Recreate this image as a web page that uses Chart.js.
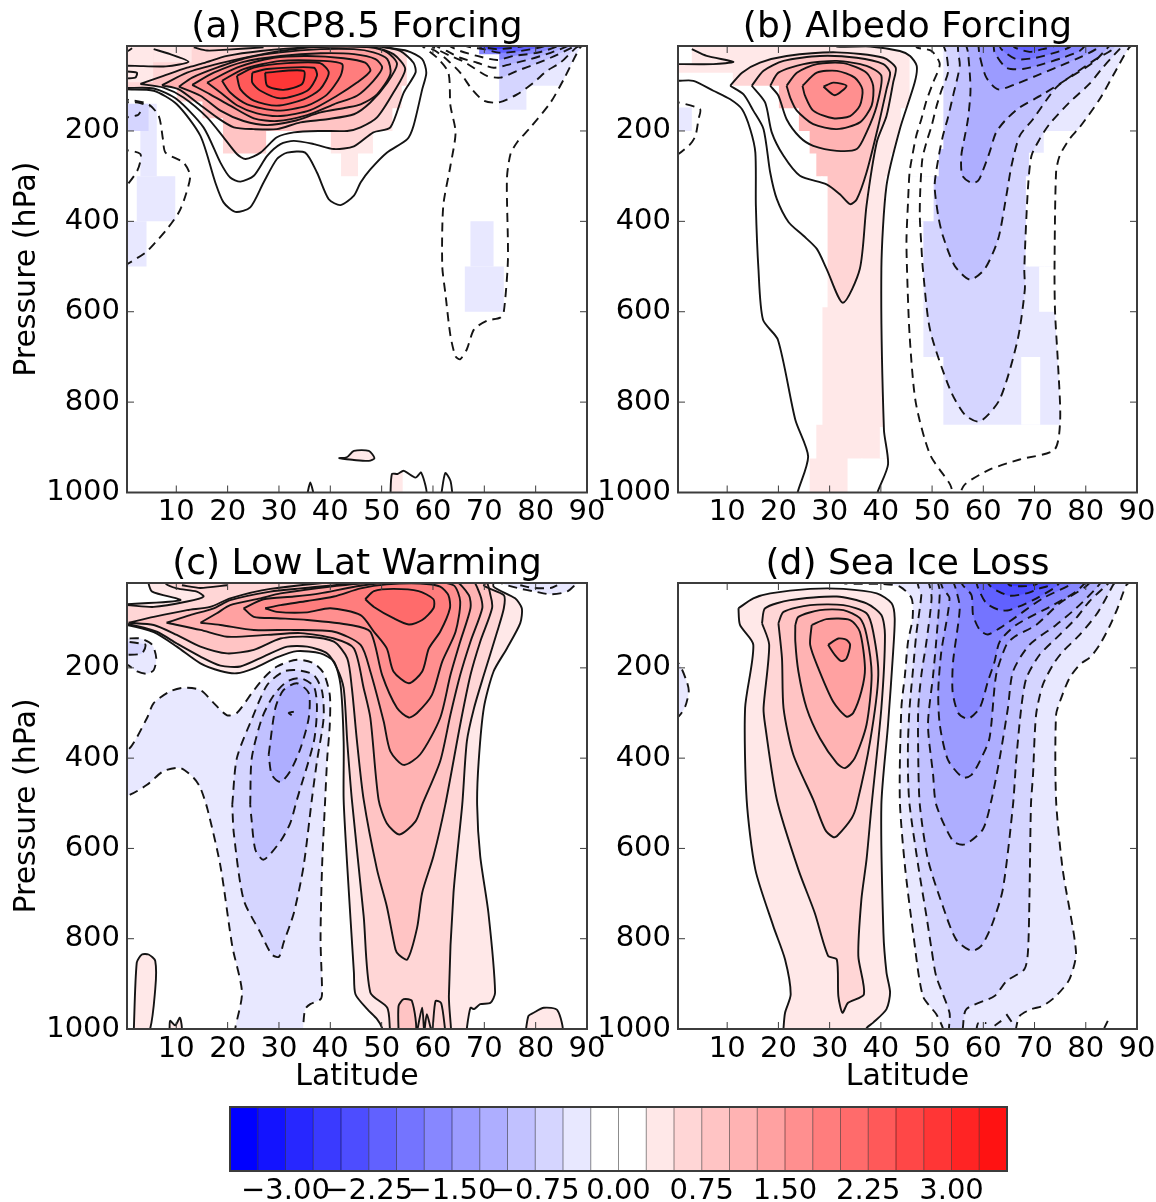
<!DOCTYPE html>
<html>
<head>
<meta charset="utf-8">
<title>Pressure / latitude panels</title>
<script src="https://cdn.jsdelivr.net/npm/chart.js@4/dist/chart.umd.js"></script>
<style>
  body { margin: 0; background: #fff; overflow: hidden; }
  .panel { position: absolute; }
  canvas { display: block; filter: blur(0.6px); }
</style>
</head>
<body>
<div class="panel" style="left:0;top:0"><canvas id="panelA" width="610" height="545"></canvas></div>
<div class="panel" style="left:590px;top:0"><canvas id="panelB" width="569" height="545"></canvas></div>
<div class="panel" style="left:0;top:537px"><canvas id="panelC" width="610" height="563"></canvas></div>
<div class="panel" style="left:590px;top:537px"><canvas id="panelD" width="569" height="563"></canvas></div>
<div class="panel" style="left:200px;top:1090px"><canvas id="colorbar" width="840" height="112"></canvas></div>
<script>
// colour scale
const cbLevels = [-3.5,-3.25,-3,-2.75,-2.5,-2.25,-2,-1.75,-1.5,-1.25,-1,-0.75,-0.5,-0.25,0,0.25,0.5,0.75,1,1.25,1.5,1.75,2,2.25,2.5,2.75,3,3.25,3.5];
const cbColors = ['#0000ff','#1313ff','#2727ff','#3a3aff','#4d4dff','#6161ff','#7474ff','#8787ff','#9b9bff','#aeaeff','#c1c1ff','#d5d5ff','#e8e8ff','#ffffff',
                  '#ffffff','#ffe8e8','#ffd6d6','#ffc4c4','#ffb3b3','#ffa1a1','#ff8f8f','#ff7d7d','#ff6b6b','#ff5959','#ff4747','#ff3636','#ff2424','#ff1212'];
const cbTicks = [-3,-2.25,-1.5,-0.75,0,0.75,1.5,2.25,3];

const latTicks = [10,20,30,40,50,60,70,80,90];
const pressureTicks = [200,400,600,800,1000];

// each contour: [level, [lat,p, lat,p, ...]]
// (a) RCP8.5 Forcing
const rcpPos = [
  [0.25,[-2,108,0.4,108,5.6,111,10.1,141,14.7,211,17.6,314,19.2,358,21.5,379,24.4,369,27,314,29.6,262,31.6,248,35.1,248,37.4,292,39.7,351,42,364,44.6,343,45.9,314,47.8,285,51,248,55,218,56.2,189,57.9,108,58.7,71,57.9,41,55,23,50.4,15,45,5,-2,5]],
  [0.5,[-2,105,0.4,105,5.6,106,10.1,130,15.3,192,18.6,270,20.5,303,22.5,312,25.1,299,27.7,255,30.3,229,32.9,222,36.8,229,40.7,240,44.6,234,48.4,203,51.7,192,54.3,115,56.6,71,56.2,49,53.6,23,49.7,12,45,5,-2,5]],
  [0.75,[3,96,7.5,104,11.4,126,16,170,19.2,214,21.8,251,23.5,262,26.4,248,29.6,214,32.9,203,38.1,200,43.3,200,45.9,192,49.1,170,52.3,115,54.6,63,52.3,30,48.4,15,35.5,15,26.4,23,19.9,34,15.3,50,12.1,60,7.5,78]],
  [1,[7.2,99,10.5,108,14,137,17.9,170,21.2,192,25.1,196,29.6,196,34.2,181,39.4,174,44.6,163,47.8,137,51.1,93,53,52,51.1,26,47.8,15,38.1,13,30.3,23,25.1,34,18.6,50,12.1,71]],
  [1.25,[10.5,102,14.7,122,18.6,155,23.1,178,27.7,187,32.9,178,38.1,159,43.3,148,45.9,141,49.1,119,51.7,74,51.1,41,48.4,26,44.6,19,38.1,19,30.3,26,23.8,38,17.9,60,13.1,82]],
  [1.5,[13.1,98,16.6,119,20.5,144,25.1,172,29.6,178,35.5,165,40.7,141,45.2,122,48.4,89,50.1,60,48.8,41,44.6,30,38.1,28,30.3,34,23.1,47,17.3,71]],
  [1.75,[16,93,18.6,115,21.8,143,25.7,161,30.3,167,36.1,154,41.3,122,45.2,93,47.8,67,46.8,49,42.6,39,35.5,34,29,38,21.8,60]],
  [2,[18.9,89,20.5,115,23.8,141,29.6,155,35.5,144,39.4,119,42,78,42.3,52,38.7,45,30.3,45,23.1,63]],
  [2.25,[21.8,78,22.5,108,25.1,133,29.6,144,34.8,130,38,108,39.7,71,38,50,31.6,50,25.1,60]],
  [2.5,[24.8,71,24.8,93,26.4,111,30.3,128,35.5,111,37.4,78,36.8,60,27.7,63]],
  [2.75,[27.3,71,27.7,100,30.9,109,34.5,96,34.8,67]],
  [0.25,[41.6,924,43.2,922,44.6,908,47.5,908,48.6,924,47.5,930,44.6,928]],
  [0.25,[51.7,1010,52,959,53.1,959,54.3,952,56.6,967,57.7,956,58.6,1010]]
];
const rcpNeg = [
  [-0.25,[57,5,58.2,15,60.8,38,63,71,63.4,144,64.4,203,63.4,277,62,366,61.8,498,62.4,558,63.4,653,64.4,699,65.3,705,66.6,683,68,639,70.5,620,73.1,613,73.8,600,74.6,484,74.4,306,75.1,251,76.4,225,79,192,82.9,137,85.5,85,88.7,15,90,5]],
  [-0.5,[57,5,58.5,13,60.5,23,63,45,65.3,71,67.6,108,69.9,133,72.8,137,76.4,119,79.6,93,82.2,67,84.8,49,88,15,90,5]],
  [-0.75,[59,5,60.1,15,63.4,34,65.7,45,67.9,60,70.5,78,73.1,82,76.4,67,79,56,82.9,38,87.1,15,88,5]],
  [-1,[60,5,60.8,13,62.7,23,65.3,38,68.6,49,71.8,60,75.1,52,79,41,82.9,27,86.1,13,87,5]],
  [-1.5,[63,5,63.4,13,65.3,23,68.6,34,72.5,43,75.7,34,80.3,27,84.2,13,85,5]],
  [-2,[66,5,66.6,13,69.9,19,73.1,27,77,23,81.6,13,82,5]],
  [-2.5,[68,5,68.9,12,72.5,19,77.7,12,78,5]]
];
const rcpMask = [
  [-2,103,10,1100],[10,135,15,1100],[15,172,19,1100],[19,250,27.6,900],[27.6,200,40,900],[40,250,42,900],[42,300,45.5,900],
  [45.5,250,48.4,900],[48.4,200,52.2,900],[52.2,150,54,900],[54,100,55,900],[55,-5,58,900],[58,-5,68.9,900],[68.9,30,72.8,900],
  [72.8,153,78.3,900],[78.3,100,92,900],[54.2,940,92,1100]
];
const rcpBlocks = [
  [0.25,-2,5,5.5,92],[0.25,5.5,5,13,48],
  [-0.25,3,140,6.2,300],[-0.25,2.3,300,9.8,400],[-0.25,0.4,400,4.2,500],[-0.5,0.4,140,4.6,200],
  [-0.25,67.3,400,71.8,500],[-0.25,66.2,500,73.8,600]
];
const rcpSolid = [
  [5.6,19,8.8,30,12.4,47,8,57,2,56,-2,55],
  [-2,67,2.3,71,2,82,-2,84],
  [-1,26,0.4,24,1.4,17],
  [13.4,15,16,22,20,20,27,15],
  [35.5,1005,36.1,978,36.8,1005],
  [61.6,1005,62.4,957,63.4,974,63.8,1005]
];
const rcpDashed = [
  [-1,130,1.4,132,4.6,141,6.6,167,7.4,218,7.9,248,11.4,270,12.7,299,11.8,343,10.5,380,8.2,417,5.9,447,4,469,0.4,495,-1,503],
  [-1,240,3,251,2.4,288,-1,340],
  [-1,137,2.5,137,4.8,146],
  [-1,172,2.5,165,3,158]
];

// (b) Albedo Forcing
const albedoPos = [
  [0.25,[-2,89,0.5,89,3.4,89,7.3,111,10.6,130,12.9,152,14.5,196,15.5,248,15.6,365,16.1,505,17,618,19.9,662,23.3,839,25.8,920,23.8,998,23.6,1012,39.2,1012,39.4,998,41.4,938,40.6,861,40.1,505,41.1,321,43.7,196,46.6,93,47,56,45.7,34,43.7,23,37.9,13,31.4,13,31,5,-2,5]],
  [0.5,[10.6,100,12.9,71,16.4,49,21.6,34,31.4,26,40.5,38,42.9,60,42.4,93,41.1,167,39.2,225,37.2,365,35.9,505,32.6,580,29.4,505,27.5,461,24.9,432,22,402,19.7,351,18.4,292,17.1,196,15.1,155,13.2,119]],
  [0.75,[14.8,100,17.1,67,21,45,28.1,34,35.3,38,40.5,52,41.8,71,41.1,108,39.5,189,37.2,292,35.3,351,34,362,32,340,29.4,318,24.2,299,21,255,18.7,203,17.4,137]],
  [1,[18.4,100,20,71,24.9,52,31.4,45,37.2,56,40.1,78,39.2,144,37.2,203,35.3,240,31.4,244,26.8,233,24.2,214,21.6,174,20,122]],
  [1.25,[21.6,100,23.6,71,27.5,52,32.7,50,37.2,71,38.5,100,38.2,144,35.9,181,31.4,196,26.8,185,23.6,155,22.3,126]],
  [1.5,[24.7,100,27.5,71,31.4,67,34.9,82,36.4,108,35.9,144,34,167,30.7,172,26.8,155,25.2,122]],
  [1.75,[28.8,102,30.7,93,33.3,100,31,121]]
];
const albedoNeg = [
  [-0.25,[47,5,47,15,49.9,23,51.5,52,50.2,93,48.9,133,47.9,174,46.9,211,46.2,251,45.6,292,45.3,358,45,439,45.1,505,45.6,650,46.8,800,49.6,916,53.5,982,54.4,1012,55,1012,56.4,982,61.3,949,67.1,927,73.9,905,75,839,74.6,720,74,600,73.9,505,74.2,292,74.9,255,76.8,218,78.8,192,82.7,130,85.3,78,88.5,15,90,5]],
  [-0.5,[52,5,52.8,30,53.1,71,51.8,111,50.8,148,49.9,189,48.9,225,48.1,262,47.7,329,47.6,388,47.9,454,48.2,505,49.6,640,53.5,772,56.4,828,59.3,843,63.2,794,66.7,662,68.1,551,68,505,68.7,329,69.4,255,71,218,72.9,185,76.8,137,80.7,96,83.3,60,86.6,19,88,5]],
  [-0.75,[55,5,55.1,26,55.4,56,54.1,122,53.1,170,52.1,211,51.2,262,50.5,321,51.2,388,52.1,432,54.4,498,57.4,529,60.3,505,62.9,439,64.5,343,65.5,277,67.1,211,69.7,174,74.2,104,78.1,71,82,41,85.3,19,86,5]],
  [-1,[56.5,5,57,26,57.5,108,57,174,56.4,211,55.7,255,55.9,299,57.7,315,59,310,59.9,288,61.2,248,62.5,203,64.5,174,67.1,148,71.6,119,76.8,82,81.4,49,84,19,85,5]],
  [-1.25,[59,5,59.3,34,60.6,82,62.9,108,66.4,96,70.3,78,74.2,60,78.1,41,82,19,83,5]],
  [-1.5,[62,5,62.2,26,64.5,60,67.7,63,71.6,52,75.5,38,78.8,23,80,5]],
  [-1.75,[63,5,63.5,19,66.4,41,70.3,38,74.2,26,76.8,15,77.5,5]],
  [-2,[65.5,5,66.1,15,69,25,71.6,19,73.6,13,74,5]]
];
const albedoMask = [
  [-2,5,3,52],[-2,71,11,1100],[11,100,20,1100],[20,150,23.9,1100],[23.9,200,26,1100],[26,250,27.3,925],[27.3,300,28.5,850],[28.5,300,29.5,590],
  [33.6,925,36.3,1100],[36.3,925,44,1100],[39.9,855,44,925],[41,300,44,855],[42,250,44,300],[44,150,46,1100],
  [45.7,-5,52.1,240],[46,240,51.2,300],[46,300,50.2,400],[46,400,48.2,700],[46,700,52.1,1100],
  [78.4,200,92,1100],[71.9,200,78.4,500],[69,248,71.9,500],[68.4,300,69,500],[71,500,92,600],[67.5,700,71,850],[75.3,600,92,1100],[52.1,850,92,1100]
];
const albedoBlocks = [
  [-0.25,0.4,148,3.1,200]
];
const albedoSolid = [
  [3.1,19,6,34,11.2,47,7.3,52,-1,52]
];
const albedoDashed = [
  [-1,137,0.5,137,4.7,152,4.4,174,3.8,211,2.8,229,0.5,251,-1,256]
];

// (c) Low Lat Warming
const lowLatPos = [
  [0.25,[-2,59,0.4,59,10.8,50,5.3,31,4.6,13,4.6,-2,71.8,-2,71.8,20,76,46,77.3,68,77,101,74.4,157,71.8,208,69.9,289,68.9,407,68.6,503,69.2,617,70.8,743,72.1,919,71.2,942,69.2,945,68,956,67.3,953,66.6,998,66.6,1012,50.1,1012,50.1,998,49.1,978,47.2,956,44.9,923,44.6,875,43.3,639,42.6,492,42.6,363,42,238,40.7,186,38.1,168,33.5,163,29.6,177,25.1,201,21.8,212,18.6,207,14.7,190,10.1,153,5.6,121,0.4,105,-2,105]],
  [0.5,[-2,61,0.4,61,5.6,65,12.1,53,15.3,42,14,31,10.1,24,7.9,13,7.9,-2,73,-2,69.9,17,73.8,39,73.8,68,72.5,120,69.9,216,68,289,66.6,363,65.7,503,64,698,63.1,927,63.5,998,63.5,1012,51.6,1012,51.6,998,51.1,953,47.8,919,46.5,750,44.2,492,43.3,363,42.6,245,41.3,201,39.4,168,35.5,153,31.6,153,27,175,22.5,197,18.6,195,14.7,175,10.1,146,6.2,120,0.7,103,-2,103]],
  [0.75,[0.7,100,5.6,87,12.1,72,16.6,65,20.5,46,28.3,25,45.9,5.5,69.9,2,71.2,39,71.5,68,69.2,142,67.3,216,65.3,326,62.4,503,60.1,617,57.9,698,56.9,776,55,846,53.3,835,52.7,824,51,728,49.1,647,46.5,492,45.2,363,44.2,245,43.3,179,40.7,142,35.5,131,30.3,135,25.1,160,19.9,168,14.7,153,10.1,127,5.6,105]],
  [1,[8.1,100,12.7,83,17.3,68,20.5,50,28.3,31,34.2,24,45.9,12,67.3,2,69.2,39,69.6,68,67.3,142,65.3,216,63.4,304,61.4,407,57.9,503,56.6,540,53.5,569,51,544,49.4,492,47.8,311,46.5,245,44.6,157,40.7,135,34.2,123,27.7,127,19.9,131,14.7,116]],
  [1.25,[14.7,100,17.9,79,20.5,61,26.4,46,30.3,35,45.9,13,64,6,67,39,67.3,68,65.3,142,63.4,216,61.4,311,57.5,392,54.3,415,51.7,385,50.4,319,47.8,208,45.9,149,40.7,120,32.9,116,25.1,116,18.6,105]],
  [1.5,[23.1,68,27,48,32.9,42,38,35,45.9,18,57.5,6,64,17,65.3,53,64.4,120,61.8,186,59.8,260,56.9,300,55.3,310,53,289,50.1,216,47.8,120,43.9,105,35.5,94,29.6,90,25.1,87]],
  [1.75,[27.3,68,30.3,61,35.5,52,40.7,42,45.9,24,51,15,57.5,13,61.4,20,63,39,63.3,68,61.4,120,59.2,157,57.9,208,55.3,234,52.3,208,51,157,48.5,120,45.9,83,40,68,35.5,77,29.6,76]],
  [2,[46.8,48,48.5,30,52.3,25,57.2,30,60.1,48,60.1,68,57.9,94,55.3,104,52.3,90,48.5,65]],
  [0.75,[53.3,1010,53.3,949,54.3,934,55.9,938,56.6,1010]],
  [0.25,[1.7,1010,2.3,853,3.3,835,4.6,835,5.9,849,5.9,912,4.6,1010]],
  [0.25,[78,1010,78.6,971,79.6,964,81.6,953,84.2,958,85.1,1010]],
  [0.25,[8.7,1005,8.8,982,9.8,992,10.7,975,11,1005]]
];
const lowLatNeg = [
  [-0.25,[-2,381,0.7,381,4.3,311,5.6,278,8.8,252,11.4,244,14.7,249,17.3,278,19.9,305,21.8,300,24.7,256,27,223,29.6,197,33.5,182,36.8,190,38.7,212,39.9,260,39.9,326,39.4,400,39,492,38.4,639,38.1,801,38.4,919,38.1,934,36.1,945,35.1,956,34.7,998,34.7,1012,21.5,1012,21.5,998,22.8,919,20.9,816,18.6,639,16.1,514,14.7,466,13.4,444,10.8,422,7.5,429,4.3,459,1,481,-2,490]],
  [-0.25,[-2,135,0.4,135,3,135,5.3,149,6.1,179,5.6,205,4.3,213,2.4,208,0.4,193,-2,190]],
  [-0.5,[-2,142,0.4,142,3,146,4,149,3.3,168,0.4,171,-2,171]],
  [-0.25,[72,5,73.4,13,76.4,23,79.9,31,82.9,37,86.1,31,88,13,89,5]],
  [-0.5,[20.9,503,21.8,400,24.8,311,27.7,238,30.9,208,33.5,205,36.8,216,38.4,252,38.7,311,37.4,407,36.4,492,34.8,639,32.9,743,30.9,809,30,840,28.6,835,26.4,787,23.1,713,21.2,566]],
  [-0.75,[24.4,503,24.7,400,26.7,311,29,260,31.6,230,34.2,223,36.8,241,37.4,289,36.8,363,33.5,492,32.2,544,30.3,584,27,625,25.4,603,24.6,529]],
  [-1,[28,392,29.3,289,30.9,249,33.5,234,35.8,256,35.8,311,34.2,378,32.2,429,30.3,453,28.6,437]]
];
const lowLatSolid = [
  [11.1,17,14.7,23,19.9,17],
  [56.9,1005,57.9,953,58.3,1005,58.8,967,59.8,1005,60.5,938,61.6,943,62.4,1005]
];
const lowLatDashed = [
  [32.9,297,31.9,300,32.9,308],
  [77,17,79.6,23,82.9,23,84.2,17]
];

// (d) Sea Ice Loss
const seaIcePos = [
  [0.25,[12.2,68,15.1,46,18.4,35,26.2,25,32.7,25,39.2,35,42.1,57,42.7,90,42.4,164,41.4,326,40.1,503,40.5,787,41.1,875,41.8,919,41.1,956,38.5,986,37.2,998,37.2,1012,21,1012,21,998,21.3,964,22.4,923,21.3,846,19,772,15.5,647,13.8,492,13.5,289,15.1,149,12.5,105]],
  [0.5,[16.8,101,17.4,68,22.3,50,31.4,42,37.2,57,40.1,83,40.8,127,40.1,289,38.2,503,37.2,625,36.2,713,35.6,838,36.7,923,33.6,942,32.5,964,31.7,927,31.4,846,29.7,838,27.1,743,23.9,647,19.7,492,17.4,326,17.1,289,18.2,149]],
  [0.75,[20,101,21,76,26.2,61,32.7,61,37.2,79,38.5,120,39.5,216,37.9,363,35.3,503,34.3,533,31.4,573,30.7,575,29.1,558,26.8,492,22.9,392,21,289,20.7,179]],
  [1,[23.3,105,23.9,87,28.1,72,32.7,72,35.9,90,37.2,127,38.2,216,37.2,326,34.9,400,33,422,31.4,411,28.1,356,25.5,289,23.9,208,23.3,142]],
  [1.25,[26.5,105,29.4,92,34,94,35.9,120,36.9,201,36.2,252,34.6,300,33.3,308,30.7,275,27.8,201,26.2,149]],
  [1.5,[29.7,149,31.7,135,33.3,138,34,149,33.3,179,32.3,185,31,171]]
];
const seaIceNeg = [
  [-0.25,[-1,190,0.5,190,2.1,230,2.5,252,1.8,286,0.5,308,-1,315]],
  [-0.25,[32,5,33,13,40,14,43.7,20,46,46,46.2,90,45.3,142,44.7,216,44,289,43.7,492,44.7,639,46.3,787,48.2,927,50.8,967,52.1,998,52.1,1012,66.4,1012,66.4,998,67.1,971,69.4,956,71.6,949,74.2,927,76.8,890,78.1,831,75.5,647,74.2,492,74.2,304,75.2,267,76.8,223,78.8,193,81,175,82.7,149,84.6,109,86.2,68,87.9,17,89,5]],
  [-0.5,[47,5,47.6,31,47.9,39,46.9,127,46.3,201,45.6,289,45.3,363,45.3,437,45.6,503,47.3,639,48.9,750,49.9,824,50.8,883,53.4,964,53.3,998,53.3,1012,56,1012,56,998,56.7,956,62.2,927,64.5,894,68,868,68.7,831,69,713,69.3,503,69.7,437,70.3,304,71.6,238,73.6,193,75.5,164,78.8,127,82,83,83.6,53,85.3,17,86,5]],
  [-0.75,[49,5,49.5,17,49.9,46,48.9,142,47.9,216,47.3,289,47.3,400,47.6,503,49.2,625,52.1,728,54.7,802,57.7,827,59.6,816,61.6,772,63.8,691,65.8,503,66.4,407,67.4,289,68.4,223,71,171,74.9,127,78.1,90,80.7,53,84,17,85,5]],
  [-1,[51,5,51.5,31,50.8,142,50.2,216,49.2,326,50.2,437,50.8,503,54.1,584,56.4,591,59.9,558,61.6,492,63.2,400,64.8,289,65.8,208,69,149,74.2,105,78.1,68,82,24,83,5]],
  [-1.25,[51.5,5,52.1,24,53.4,46,51.8,164,51.2,252,51.5,326,53.1,404,56,443,57.7,437,59.3,407,61.2,356,62.5,216,64.5,149,66.1,131,70.3,105,74.9,57,80,20,81,5]],
  [-1.5,[54,5,54.7,28,55.4,68,54.1,186,54,252,55.1,300,57,313,59.3,289,60.9,230,62.2,186,63.2,142,66.4,105,73.6,61,78.1,31,80,5]],
  [-1.75,[55.5,5,56,17,57.7,39,58,83,59.3,116,60.9,126,63.2,112,66.4,87,71.6,46,76.8,17,78,5]],
  [-2,[58.5,5,59,24,60.6,57,63.2,72,65.1,72,69.7,50,74.2,20,75,5]],
  [-2.25,[60.5,5,61.2,17,62.5,28,65.1,40,68.4,35,71,24,72.9,17,73.5,5]],
  [-2.5,[64.5,5,65.1,17,68.4,19,70.3,15,71,5]]
];
const seaIceSolid = [
  [83.6,998,84.3,982]
];
const seaIceDashed = [
  [58.6,1005,59,987,60.6,987],
  [62.2,993,63.5,982],
  [64.5,967,65.7,987]
];

function toPoints(flat) {
  const pts = [];
  for (let i = 0; i < flat.length; i += 2) pts.push({ x: flat[i], y: flat[i + 1] });
  return pts;
}

// contours come as open rings, close them so the tips get drawn too
function ringPoints(flat) {
  return toPoints(flat.concat([flat[0], flat[1]]));
}

function rectPoints(lat0, p0, lat1, p1) {
  return toPoints([lat0, p0, lat1, p0, lat1, p1, lat0, p1]);
}

function bandColor(level) {
  const v = level > 0 ? level + 0.01 : level - 0.01;
  for (let i = 0; i < cbColors.length; i++) {
    if (v >= cbLevels[i] && v < cbLevels[i + 1]) return cbColors[i];
  }
  return '#ffffff';
}

function fillSet(points, color, tension) {
  return { data: points, showLine: true, fill: 'shape', backgroundColor: color, borderWidth: 0, pointRadius: 0, tension: tension };
}

function lineSet(points, dashed) {
  return { data: points, showLine: true, fill: false, borderColor: '#141414', borderWidth: 1.9,
           borderDash: dashed ? [9, 6] : [], pointRadius: 0, tension: 0.25, borderJoinStyle: 'round' };
}

// painter's order: contour fills, white mask of what is not significant, blocks, then lines
function buildDatasets(pos, neg, mask, blocks, solid, dashed) {
  const sets = [];
  neg.concat(pos).forEach(([level, flat]) => sets.push(fillSet(ringPoints(flat), bandColor(level), 0.25)));
  // a little overlap so neighbouring mask rects leave no seam
  mask.forEach(r => sets.push(fillSet(rectPoints(r[0] - 0.1, r[1], r[2] + 0.1, r[3]), '#ffffff', 0)));
  blocks.forEach(b => sets.push(fillSet(rectPoints(b[1], b[2], b[3], b[4]), bandColor(b[0]), 0)));
  pos.forEach(([level, flat]) => sets.push(lineSet(ringPoints(flat), false)));
  neg.forEach(([level, flat]) => sets.push(lineSet(ringPoints(flat), true)));
  solid.forEach(flat => sets.push(lineSet(toPoints(flat), false)));
  dashed.forEach(flat => sets.push(lineSet(toPoints(flat), true)));
  sets.forEach((s, i) => { s.order = -i; });
  return sets;
}

// matplotlib style frame with inward ticks on all four sides
const frameTicks = {
  id: 'frameTicks',
  afterDatasetsDraw(chart) {
    const { ctx, chartArea: a, scales } = chart;
    ctx.save();
    ctx.strokeStyle = '#3c3c3c';
    ctx.lineWidth = 1;
    ctx.beginPath();
    scales.x.ticks.forEach(t => {
      const x = scales.x.getPixelForValue(t.value);
      ctx.moveTo(x, a.top); ctx.lineTo(x, a.top + 7);
      ctx.moveTo(x, a.bottom); ctx.lineTo(x, a.bottom - 7);
    });
    if (scales.y) {
      scales.y.ticks.forEach(t => {
        const y = scales.y.getPixelForValue(t.value);
        ctx.moveTo(a.left, y); ctx.lineTo(a.left + 7, y);
        ctx.moveTo(a.right, y); ctx.lineTo(a.right - 7, y);
      });
    }
    ctx.stroke();
    ctx.lineWidth = 2;
    ctx.strokeRect(a.left, a.top, a.right - a.left, a.bottom - a.top);
    ctx.restore();
  }
};

const fontFamily = '"DejaVu Sans", sans-serif';

function makePanel(id, titleText, datasets, cfg) {
  return new Chart(document.getElementById(id), {
    type: 'scatter',
    data: { datasets: datasets },
    plugins: [frameTicks],
    options: {
      responsive: false,
      animation: false,
      layout: { padding: { right: cfg.padRight } },
      plugins: {
        legend: { display: false },
        tooltip: { enabled: false },
        title: {
          display: true, text: titleText, fullSize: false, color: '#000',
          font: { family: fontFamily, size: 36, weight: 'normal', lineHeight: 1 },
          padding: { top: 10, bottom: 0 }
        }
      },
      scales: {
        x: {
          type: 'linear', min: 0.4, max: 90,
          grid: { display: false, drawTicks: false }, border: { display: false },
          afterBuildTicks: ax => { ax.ticks = latTicks.map(v => ({ value: v })); },
          afterFit: ax => { ax.height = cfg.xHeight; },
          ticks: { color: '#000', font: { family: fontFamily, size: 29 }, padding: 3, autoSkip: false, maxRotation: 0, callback: v => String(v) },
          title: { display: cfg.xTitle, text: 'Latitude', color: '#000', font: { family: fontFamily, size: 30 }, padding: { top: 0, bottom: 5 } }
        },
        y: {
          type: 'linear', min: 12, max: 1000, reverse: true,
          grid: { display: false, drawTicks: false }, border: { display: false },
          afterBuildTicks: ax => { ax.ticks = pressureTicks.map(v => ({ value: v })); },
          afterFit: ax => { ax.width = cfg.yWidth; },
          ticks: { color: '#000', font: { family: fontFamily, size: 29 }, padding: 7, autoSkip: false, callback: v => String(v) },
          title: { display: cfg.yTitle, text: 'Pressure (hPa)', color: '#000', font: { family: fontFamily, size: 30 }, padding: { top: 9, bottom: 0 } }
        }
      }
    }
  });
}

makePanel('panelA', '(a) RCP8.5 Forcing', buildDatasets(rcpPos, rcpNeg, rcpMask, rcpBlocks, rcpSolid, rcpDashed),
  { padRight: 23, yWidth: 127, xHeight: 52.5, yTitle: true, xTitle: false });
makePanel('panelB', '(b) Albedo Forcing', buildDatasets(albedoPos, albedoNeg, albedoMask, albedoBlocks, albedoSolid, albedoDashed),
  { padRight: 22, yWidth: 88, xHeight: 52.5, yTitle: false, xTitle: false });
makePanel('panelC', '(c) Low Lat Warming', buildDatasets(lowLatPos, lowLatNeg, [], [], lowLatSolid, lowLatDashed),
  { padRight: 23, yWidth: 127, xHeight: 71, yTitle: true, xTitle: true });
makePanel('panelD', '(d) Sea Ice Loss', buildDatasets(seaIcePos, seaIceNeg, [], [], seaIceSolid, seaIceDashed),
  { padRight: 22, yWidth: 88, xHeight: 71, yTitle: false, xTitle: true });

// colour bar
const barSets = cbColors.map((c, i) => ({
  data: rectPoints(cbLevels[i], 0, cbLevels[i + 1], 1), showLine: true, fill: 'shape', backgroundColor: c,
  borderColor: 'rgba(0,0,0,0.45)', borderWidth: 1, pointRadius: 0, tension: 0
}));
new Chart(document.getElementById('colorbar'), {
  type: 'scatter',
  data: { datasets: barSets },
  plugins: [{
    id: 'barFrame',
    afterDatasetsDraw(chart) {
      const { ctx, chartArea: a } = chart;
      ctx.save();
      ctx.strokeStyle = '#3c3c3c';
      ctx.lineWidth = 2;
      ctx.strokeRect(a.left, a.top, a.right - a.left, a.bottom - a.top);
      ctx.restore();
    }
  }],
  options: {
    responsive: false,
    animation: false,
    layout: { padding: { left: 30, right: 33, top: 17 } },
    plugins: { legend: { display: false }, tooltip: { enabled: false } },
    scales: {
      x: {
        type: 'linear', min: -3.5, max: 3.5,
        grid: { display: false, drawTicks: false }, border: { display: false },
        afterBuildTicks: ax => { ax.ticks = cbTicks.map(v => ({ value: v })); },
        afterFit: ax => { ax.height = 31; },
        ticks: {
          color: '#000', font: { family: fontFamily, size: 29 }, padding: 3, autoSkip: false, maxRotation: 0,
          callback: v => (v < 0 ? '\u2212' : '') + Math.abs(v).toFixed(2)
        }
      },
      y: { type: 'linear', min: 0, max: 1, display: false }
    }
  }
});
</script>
</body>
</html>
